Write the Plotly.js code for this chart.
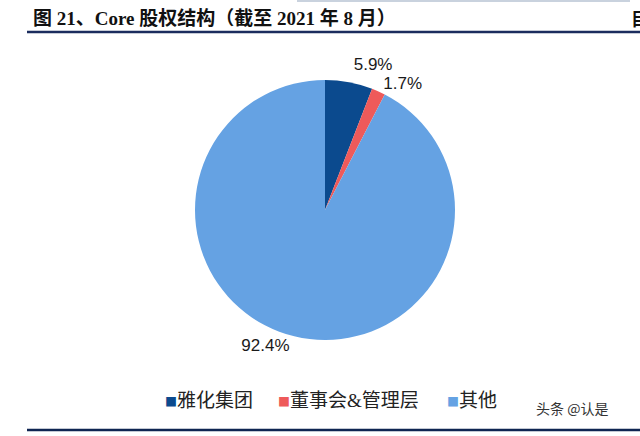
<!DOCTYPE html>
<html><head><meta charset="utf-8">
<script src="https://cdn.plot.ly/plotly-3.0.1.min.js"></script>
<style>html,body{margin:0;padding:0;background:#fff;}#chart{width:640px;height:436px;}#chart .textline{display:none;}</style>
</head><body><div id="chart"></div>
<script>
const labels = ["雅化集团", "董事会&管理层", "其他"];
const values = [5.9, 1.7, 92.4];
const colors = ["#0B4A8E", "#EE5A5A", "#65A2E3"];
const titleText = "图 21、Core 股权结构（截至 2021 年 8 月）";

const W = 640, H = 436;
const trace = {
  type: "pie",
  labels: labels,
  values: values,
  sort: false,
  direction: "clockwise",
  rotation: 0,
  marker: {colors: colors, line: {width: 0}},
  texttemplate: "%{value:.1f}%",
  textposition: "outside",
  textfont: {family: "Liberation Sans, Arial, sans-serif", size: 17, color: "#1a1a1a"},
  outsidetextfont: {family: "Liberation Sans, Arial, sans-serif", size: 17, color: "#1a1a1a"},
  hoverinfo: "none",
  automargin: false,
  showlegend: false,
  domain: {x: [195/W, 455/W], y: [1-340/H, 1-80/H]}
};

// custom legend as text annotations built from labels/colors
const legendX = [163, 276, 445];
const legendFont = {family: "Liberation Serif, Noto Sans CJK SC, serif", size: 19, color: "#222"};
const legendAnn = labels.map((lab, i) => ({
  text: '<span style="color:' + colors[i] + ';font-size:12px;font-family:Noto Sans CJK SC">■</span>' + lab,
  xref: "paper", yref: "paper", x: legendX[i]/W, xanchor: "left", y: 1-400/H, yanchor: "middle",
  showarrow: false, font: legendFont
}));

const layout = {
  width: W, height: H,
  margin: {l: 0, r: 0, t: 0, b: 0},
  paper_bgcolor: "#fff",
  showlegend: false,
  title: {text: "<b>" + titleText + "</b>", x: 33/W, xanchor: "left", y: 1-18/H, yanchor: "middle",
    font: {family: "Liberation Serif, Noto Sans CJK SC, serif", size: 19, color: "#111"}},
  annotations: [
    {text: "<b>目</b>", xref: "paper", yref: "paper", x: 1, xanchor: "left", xshift: -11, y: 1-18/H, yanchor: "middle",
     showarrow: false, font: {family: "Noto Sans CJK SC, sans-serif", size: 18, color: "#111"}},
    {text: "头条 @认是", xref: "paper", yref: "paper", x: 610/W, xanchor: "right", y: 1-408/H, yanchor: "middle",
     showarrow: false, font: {family: "Noto Sans CJK SC, sans-serif", size: 14, color: "#333"}}
  ].concat(legendAnn),
  shapes: [
    {type: "line", xref: "paper", yref: "paper", x0: 297/W, x1: 630/W, y0: 1-1/H, y1: 1-1/H, line: {color: "#c9d2de", width: 2}},
    {type: "line", xref: "paper", yref: "paper", x0: 27/W, x1: 1, y0: 1-32/H, y1: 1-32/H, line: {color: "#1b2c5e", width: 2.5}},
    {type: "line", xref: "paper", yref: "paper", x0: 27/W, x1: 1, y0: 1-430/H, y1: 1-430/H, line: {color: "#0f2552", width: 2.5}}
  ]
};
Plotly.newPlot("chart", [trace], layout, {displayModeBar: false, staticPlot: true});
</script></body></html>
